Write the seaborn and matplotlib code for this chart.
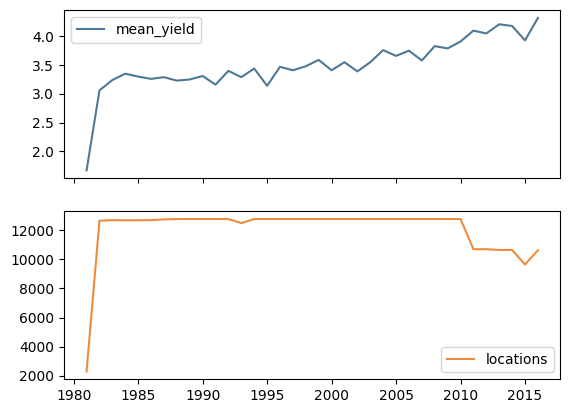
import matplotlib
matplotlib.use("Agg")
import matplotlib.pyplot as plt
import seaborn as sns
import pandas as pd

years = list(range(1981, 2017))
mean_yield = [1.67, 3.06, 3.24, 3.35, 3.30, 3.26, 3.29, 3.23, 3.25, 3.31,
              3.16, 3.40, 3.29, 3.44, 3.14, 3.47, 3.41, 3.48, 3.59, 3.41,
              3.55, 3.39, 3.55, 3.76, 3.66, 3.75, 3.58, 3.83, 3.79, 3.91,
              4.10, 4.05, 4.21, 4.18, 3.93, 4.32]
locations = [2300, 12660, 12700, 12690, 12690, 12700, 12750, 12775, 12775, 12775,
             12775, 12775, 12500, 12775, 12775, 12775, 12775, 12775, 12775, 12775,
             12775, 12775, 12775, 12775, 12775, 12775, 12775, 12775, 12775, 12775,
             10700, 10700, 10650, 10650, 9650, 10630]

df = pd.DataFrame({"year": years, "mean_yield": mean_yield, "locations": locations})

fig, axes = plt.subplots(2, 1, sharex=True, figsize=(5.69, 4.13), dpi=100)
fig.subplots_adjust(left=0.1125, right=0.985, top=0.975, bottom=0.0823, hspace=0.2)

sns.lineplot(data=df, x="year", y="mean_yield", ax=axes[0], color="#4d7896",
             label="mean_yield", linewidth=1.5)
sns.lineplot(data=df, x="year", y="locations", ax=axes[1], color="#ef8c3c",
             label="locations", linewidth=1.5)

for ax in axes:
    ax.set_xlabel("")
    ax.set_ylabel("")
axes[0].legend(loc="upper left")
axes[1].legend(loc="lower right")
axes[0].set_xticks([1980, 1985, 1990, 1995, 2000, 2005, 2010, 2015])

fig.savefig("out.png", dpi=100)
